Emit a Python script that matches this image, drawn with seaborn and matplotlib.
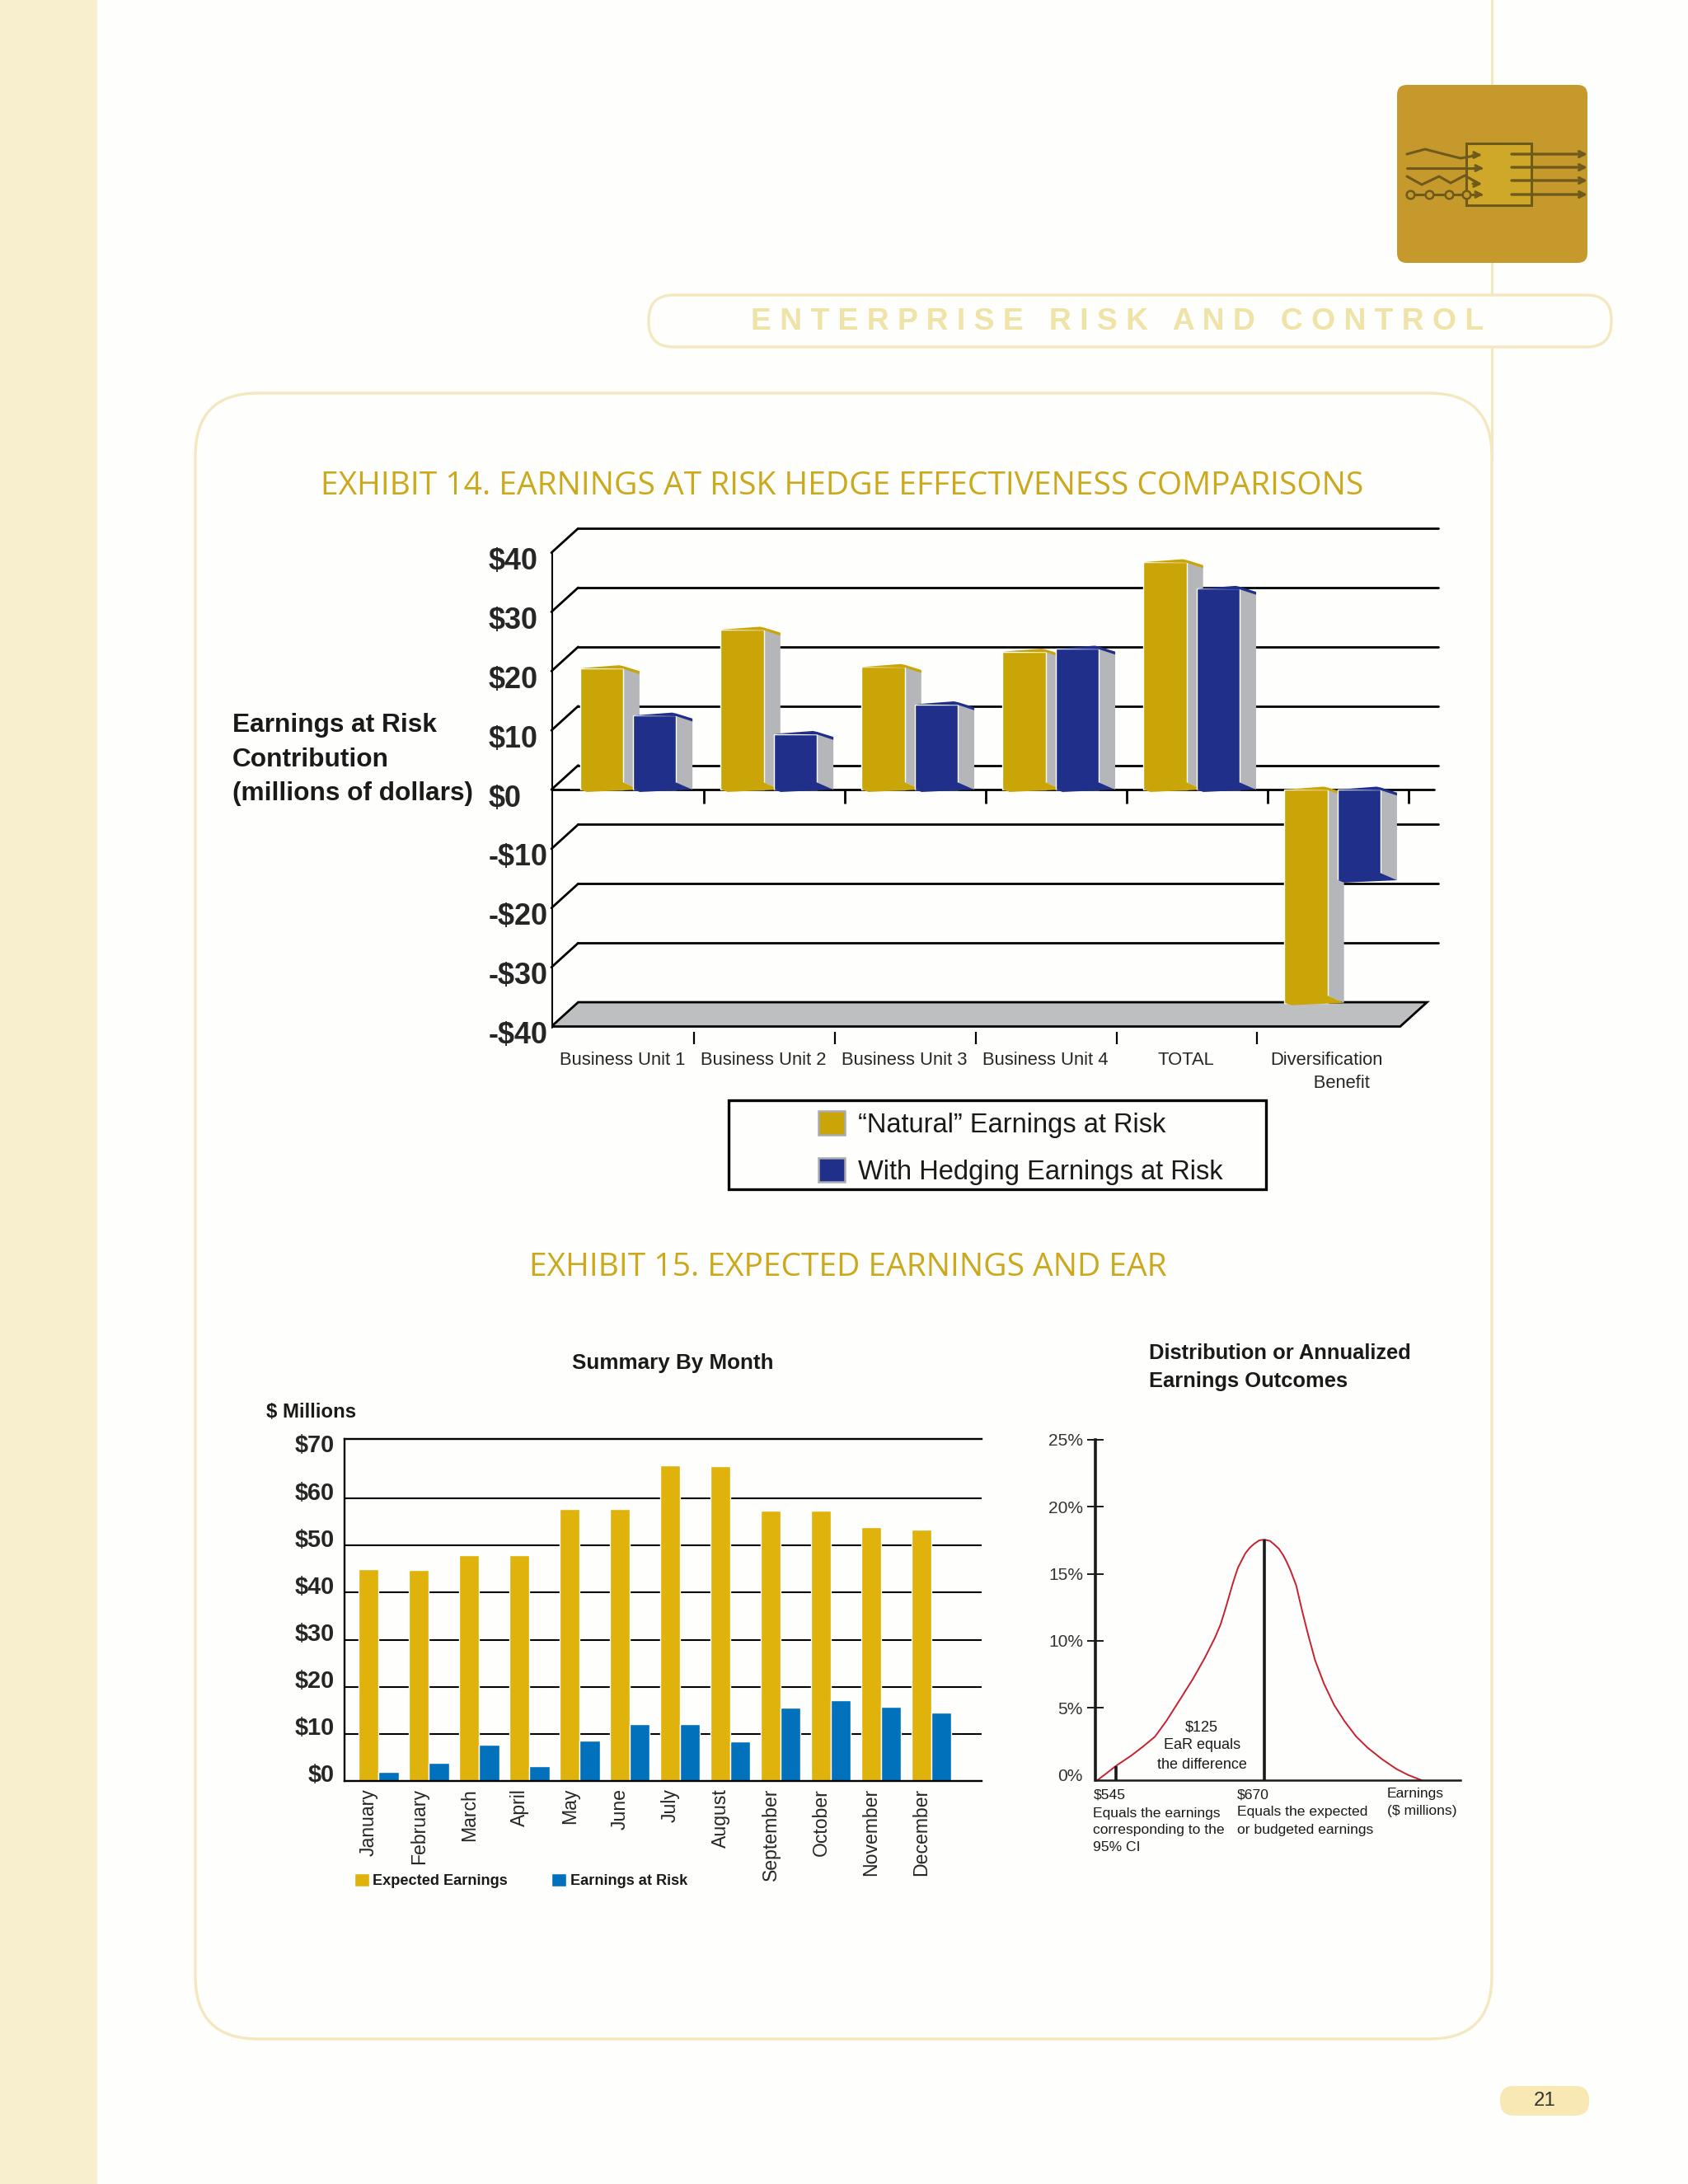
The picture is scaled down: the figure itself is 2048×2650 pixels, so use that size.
import matplotlib
matplotlib.use('Agg')
import matplotlib.pyplot as plt
from matplotlib.patches import Rectangle, FancyBboxPatch, Polygon
from matplotlib.transforms import ScaledTranslation
import seaborn as sns
import pandas as pd

W, H = 2048, 2650

# exhibit 14
units = ['Business Unit 1', 'Business Unit 2', 'Business Unit 3', 'Business Unit 4', 'TOTAL',
         'Diversification\n      Benefit']
natural_ear = [20.5, 27.0, 20.7, 23.3, 38.4, -36.0]
hedged_ear = [12.5, 9.4, 14.4, 23.8, 33.9, -15.3]
ear_ticks = [40, 30, 20, 10, 0, -10, -20, -30, -40]
ear_tick_labels = ['$40', '$30', '$20', '$10', '$0', '-$10', '-$20', '-$30', '-$40']
series_names = ['\u201cNatural\u201d Earnings at Risk', 'With Hedging Earnings at Risk']

# exhibit 15, monthly bars
months = ['January', 'February', 'March', 'April', 'May', 'June', 'July', 'August',
          'September', 'October', 'November', 'December']
expected_earnings = [44.9, 44.8, 48.0, 47.9, 57.8, 57.8, 67.0, 66.8, 57.3, 57.3, 53.8, 53.4]
earnings_at_risk = [2.0, 3.8, 7.7, 3.1, 8.5, 12.0, 12.0, 8.4, 15.5, 17.2, 15.7, 14.5]
month_ticks = [0, 10, 20, 30, 40, 50, 60, 70]
month_tick_labels = ['$0', '$10', '$20', '$30', '$40', '$50', '$60', '$70']

# exhibit 15, distribution curve
outcome = [529.3, 537.2, 545.0, 558.2, 568.0, 577.8, 587.6, 599.9, 609.7, 619.5, 628.1, 633.0,
           637.2, 642.8, 645.2, 647.7, 653.8, 657.5, 661.2, 665.6, 670.0, 674.7, 678.3, 682.0,
           685.7, 688.6, 691.8, 696.7, 701.6, 706.5, 712.6, 720.0, 728.6, 737.2, 747.0, 756.8,
           769.0, 781.3, 791.1, 802.1]
probability = [-0.4, 0.13, 0.67, 1.46, 2.13, 2.85, 4.05, 5.77, 7.15, 8.69, 10.2, 11.22,
               12.42, 14.14, 14.81, 15.47, 16.52, 16.94, 17.23, 17.50, 17.55, 17.45, 17.18, 16.88,
               16.39, 15.9, 15.27, 14.12, 12.26, 10.53, 8.54, 6.81, 5.21, 4.02, 2.87, 2.02,
               1.16, 0.42, -0.02, -0.4]
prob_ticks = [0, 5, 10, 15, 20, 25]

GOLD = '#C9A507'
NAVY = '#1F2F8A'
SIDE = '#B4B6B9'
CREAM = '#F8EFCF'
LINE_CREAM = '#F4E8C1'
TITLE_GOLD = '#CCA91C'
INK = '#1A1A1A'
PAPER = '#FEFEFC'

sns.set_theme(style='white')
plt.rcParams['font.family'] = ['Liberation Sans', 'DejaVu Sans']
plt.rcParams['text.color'] = INK

fig = plt.figure(figsize=(W / 100, H / 100), dpi=100, facecolor=PAPER)


def axes_px(left, top, right, bottom, **kw):
    return fig.add_axes([left / W, 1 - bottom / H, (right - left) / W, (bottom - top) / H], **kw)


def pt(px):
    return px * 0.72


def shift_labels(labels, dx_px, dy_px):
    offset = ScaledTranslation(dx_px / 100, dy_px / 100, fig.dpi_scale_trans)
    for lab in labels:
        lab.set_transform(lab.get_transform() + offset)


# page furniture, in pixel coordinates
page = axes_px(0, 0, W, H, zorder=0)
page.set_xlim(0, W)
page.set_ylim(H, 0)
page.axis('off')
page.add_patch(Rectangle((0, 0), 118, H, color=CREAM, lw=0))
page.plot([1810, 1810], [0, 560], color=LINE_CREAM, lw=2.2, zorder=0.5)
page.add_patch(FancyBboxPatch((237, 477), 1573, 1997, boxstyle='round,pad=0,rounding_size=76',
                              fc=PAPER, ec=LINE_CREAM, lw=2.4, zorder=1))
page.add_patch(FancyBboxPatch((787, 358), 1168, 63, boxstyle='round,pad=0,rounding_size=30',
                              fc=PAPER, ec=LINE_CREAM, lw=2.4, zorder=1))
page.text(1356, 391, 'E N T E R P R I S E   R I S K   A N D   C O N T R O L', ha='center', va='center',
          color='#EFE3A8', fontsize=pt(37.3), fontweight='bold')
page.add_patch(FancyBboxPatch((1820, 2531), 108, 36, boxstyle='round,pad=0,rounding_size=17',
                              fc='#F7E8B4', ec='none'))
page.text(1874, 2549, '21', ha='center', va='center', fontsize=pt(24), color='#333333')

# chip icon
ICON = '#6E5A1A'
page.add_patch(FancyBboxPatch((1695, 103), 231, 216, boxstyle='round,pad=0,rounding_size=12',
                              fc='#C6992C', ec='none', zorder=1.2))
page.add_patch(Rectangle((1779, 174), 79, 75, fc='#CFA82A', ec=ICON, lw=2.2, zorder=1.3))
for y in [187, 203, 219, 236]:
    page.annotate('', xy=(1926, y), xytext=(1834, y), zorder=2,
                  arrowprops=dict(arrowstyle='->', color=ICON, lw=2.4, shrinkA=0, shrinkB=0))
inputs = [([1707, 1729, 1752, 1772, 1795], [187, 181, 187, 192, 188]),
          ([1707, 1797], [204, 204]),
          ([1707, 1725, 1746, 1760, 1777, 1795], [214, 224, 214, 222, 213, 223]),
          ([1711, 1797], [236, 236])]
for xs, ys in inputs:
    page.plot(xs, ys, color=ICON, lw=2.2, zorder=2)
    page.annotate('', xy=(xs[-1] + 3, ys[-1]), xytext=(xs[-1] - 8, ys[-1]), zorder=2,
                  arrowprops=dict(arrowstyle='->', color=ICON, lw=2.2, shrinkA=0, shrinkB=0))
page.plot([1711, 1734, 1758, 1779], [236] * 4, ls='', marker='o', ms=7, mfc='#C6992C', mec=ICON, mew=1.8, zorder=3)

page.text(1022, 590, 'EXHIBIT 14. EARNINGS AT RISK HEDGE EFFECTIVENESS COMPARISONS', ha='center', va='center',
          color=TITLE_GOLD, fontsize=pt(39), family=['Open Sans', 'DejaVu Sans'])
page.text(1029, 1538, 'EXHIBIT 15. EXPECTED EARNINGS AND EAR', ha='center', va='center',
          color=TITLE_GOLD, fontsize=pt(39), family=['Open Sans', 'DejaVu Sans'])

for y, line in zip([880, 922, 963], ['Earnings at Risk', 'Contribution', '(millions of dollars)']):
    page.text(282, y, line, ha='left', va='center', fontsize=pt(31.6), fontweight='bold')

page.add_patch(Rectangle((884, 1335), 652, 108, fc=PAPER, ec='black', lw=2.4, zorder=1))

page.text(816, 1654, 'Summary By Month', ha='center', va='center', fontsize=pt(26), fontweight='bold')
page.text(323, 1713, '$ Millions', ha='left', va='center', fontsize=pt(24), fontweight='bold')
page.text(1394, 1642, 'Distribution or Annualized', ha='left', va='center', fontsize=pt(25.5), fontweight='bold')
page.text(1394, 1676, 'Earnings Outcomes', ha='left', va='center', fontsize=pt(25.5), fontweight='bold')

# --- exhibit 14: bars with a drawn-on 3D look
ax = axes_px(669, 639, 1745, 1252, zorder=2)
ax.patch.set_alpha(0)
ear_df = pd.DataFrame({
    'unit': units * 2,
    'value': natural_ear + hedged_ear,
    'series': [series_names[0]] * len(units) + [series_names[1]] * len(units),
})
sns.barplot(data=ear_df, x='unit', y='value', hue='series', order=units, hue_order=series_names,
            palette=[GOLD, NAVY], width=0.752, gap=0.18, saturation=1, ax=ax)
ax.set_xlim(-0.544, 5.75)
ax.set_ylim(-40.9, 44.4)
ax.set_xlabel('')
ax.set_ylabel('')
sns.despine(ax=ax, left=True, bottom=True)

DEPTH_X, DEPTH_Y = 0.19, 4.1
BACK_RIGHT = 5.75
left_front = ax.get_xlim()[0]
for v in ear_ticks:
    if v != -40:
        ax.plot([left_front, left_front + DEPTH_X], [v, v + DEPTH_Y], color='black', lw=2, zorder=1, clip_on=False)
        ax.plot([left_front + DEPTH_X, BACK_RIGHT], [v + DEPTH_Y, v + DEPTH_Y], color='black', lw=2, zorder=1,
                clip_on=False)
# left edge, floor and zero line
ax.plot([left_front, left_front], [ear_ticks[0], ear_ticks[-1]], color='black', lw=2.2, zorder=1)
ax.add_patch(Polygon([(left_front, -40), (left_front + DEPTH_X, -40 + DEPTH_Y), (BACK_RIGHT - 0.08, -40 + DEPTH_Y),
                      (BACK_RIGHT - 0.27, -40)], closed=True, fc='#BDBFC1', ec='black', lw=2, zorder=1.5))
ax.plot([left_front, BACK_RIGHT - 0.03], [0, 0], color='black', lw=2, zorder=2)
ax.vlines([i + 0.54 for i in range(6)], -2.4, 0, color='black', lw=2, zorder=2)

SIDE_W = 0.115
for level, (container, color) in enumerate(zip(ax.containers, [GOLD, NAVY])):
    base = 3 + level * 3
    for bar in container:
        xl, xr = bar.get_x(), bar.get_x() + bar.get_width()
        upper = max(bar.get_y(), bar.get_y() + bar.get_height())
        lower = min(bar.get_y(), bar.get_y() + bar.get_height())
        bar.set_zorder(base + 1)
        ax.add_patch(Polygon([(xr, upper), (xr + SIDE_W, upper - 0.7), (xr + SIDE_W, lower),
                              (xr, lower + 1.2)], closed=True, fc=SIDE, ec='none', zorder=base))
        # thin coloured edges on the top and the foot of the box
        ax.add_patch(Polygon([(xl, upper), (xr - 0.03, upper + 0.5), (xr, upper + 0.35), (xr + SIDE_W, upper - 0.5),
                              (xr + SIDE_W, upper - 1.0), (xr, upper - 0.1)], closed=True, fc=color, ec='none',
                             zorder=base + 2))
        ax.add_patch(Polygon([(xl, lower), (xr, lower + 1.2), (xr + SIDE_W, lower), (xl + 0.05, lower - 0.4)],
                             closed=True, fc=color, ec='none', zorder=base + 2))

ax.set_yticks(ear_ticks, ear_tick_labels, fontsize=pt(36), fontweight='bold', ha='left')
ax.tick_params(axis='y', length=0, pad=pt(76))
shift_labels(ax.get_yticklabels(), 0, -7)
ax.set_xticks(range(len(units)), units, fontsize=pt(22), linespacing=1.45)
ax.tick_params(axis='x', which='major', length=0, pad=pt(24))
shift_labels(ax.get_xticklabels(), -7, 0)
ax.set_xticks([i + 0.466 for i in range(5)], minor=True)
ax.tick_params(axis='x', which='minor', length=pt(15), width=1.6, color='black', bottom=True)
sns.move_legend(ax, 'upper left', bbox_to_anchor=(970 / W, 1 - 1325 / H), bbox_transform=fig.transFigure,
                title=None, frameon=False, fontsize=pt(32.7), handlelength=0.98, handleheight=0.98,
                labelspacing=0.76, handletextpad=0.5, borderpad=0.2)
for handle in ax.get_legend().get_patches():
    handle.set_edgecolor('#A9ABAE')
    handle.set_linewidth(1.8)

# --- exhibit 15: monthly bars
ax2 = axes_px(418, 1746, 1191, 2161, zorder=2)
ax2.patch.set_alpha(0)
month_df = pd.DataFrame({
    'month': months * 2,
    'value': expected_earnings + earnings_at_risk,
    'series': ['Expected Earnings'] * 12 + ['Earnings at Risk'] * 12,
})
sns.barplot(data=month_df, x='month', y='value', hue='series', order=months,
            palette=['#DFB30C', '#0071BA'], width=0.794, gap=0, saturation=1, ax=ax2)
ax2.set_xlim(-0.68, 12.0)
ax2.set_ylim(0, 72.6)
ax2.set_xlabel('')
ax2.set_ylabel('')
ax2.set_axisbelow(True)
ax2.grid(axis='y', color='black', lw=1.5)
for side in ['top', 'left', 'bottom']:
    ax2.spines[side].set_visible(True)
    ax2.spines[side].set_color('black')
    ax2.spines[side].set_linewidth(1.7)
ax2.spines['right'].set_visible(False)
ax2.set_yticks(month_ticks, month_tick_labels, fontsize=pt(29), fontweight='bold')
ax2.tick_params(axis='y', length=0, pad=pt(12))
# the $70 label belongs to the frame line on top, no gridline of its own
ax2.get_ygridlines()[-1].set_visible(False)
shift_labels(ax2.get_yticklabels(), 0, 9.5)
ax2.set_xticks(range(12), months, rotation=90, fontsize=pt(23), va='top')
ax2.tick_params(axis='x', length=0, pad=pt(9))
shift_labels(ax2.get_xticklabels(), -12, 0)
sns.move_legend(ax2, 'upper left', bbox_to_anchor=(417 / W, 1 - 2260 / H), bbox_transform=fig.transFigure,
                title=None, frameon=False, ncols=2, fontsize=pt(18.2), handlelength=1.0, handleheight=1.0,
                handletextpad=0.25, columnspacing=2.9, borderpad=0.2)
for text in ax2.get_legend().get_texts():
    text.set_fontweight('bold')

# --- exhibit 15: distribution curve
ax3 = axes_px(1329, 1747, 1772, 2160, zorder=2)
ax3.patch.set_alpha(0)
sns.lineplot(x=outcome, y=probability, color='#C8202F', lw=1.4, estimator=None, sort=False, ax=ax3)
ax3.set_xlim(527.6, 835)
ax3.set_ylim(-0.4, 25)
ax3.vlines(545, -0.4, probability[outcome.index(545.0)], color=INK, lw=2.6)
ax3.vlines(670, -0.4, max(probability), color=INK, lw=2.6)
sns.despine(ax=ax3)
ax3.spines['left'].set_color(INK)
ax3.spines['left'].set_linewidth(2.6)
ax3.spines['bottom'].set_color(INK)
ax3.spines['bottom'].set_linewidth(1.8)
ax3.set_yticks(prob_ticks, [f'{p}%' for p in prob_ticks], fontsize=pt(21), color='#333333')
ax3.tick_params(axis='y', direction='inout', length=pt(20), width=1.4, color=INK, left=True, pad=pt(5))
ax3.yaxis.get_major_ticks()[0].tick1line.set_visible(False)
ax3.set_xticks([])

note_px = [(863, 1240, '$125'), (863, 1253, 'EaR equals'), (863, 1267, 'the difference')]
for x, y, s in note_px:
    page.text(x * W / 1212, y * H / 1568, s, ha='center', va='center', fontsize=pt(18), zorder=5)
under_axis = [(785, 1289, '$545'), (785, 1302, 'Equals the earnings'), (785, 1314, 'corresponding to the'),
              (785, 1326, '95% CI'), (888, 1289, '$670'), (888, 1301, 'Equals the expected'),
              (888, 1314, 'or budgeted earnings'), (996, 1288, 'Earnings'), (996, 1300, '($ millions)')]
for x, y, s in under_axis:
    page.text(x * W / 1212, y * H / 1568, s, ha='left', va='center', fontsize=pt(17.5))

fig.savefig('out.png', dpi=100, facecolor=fig.get_facecolor())
